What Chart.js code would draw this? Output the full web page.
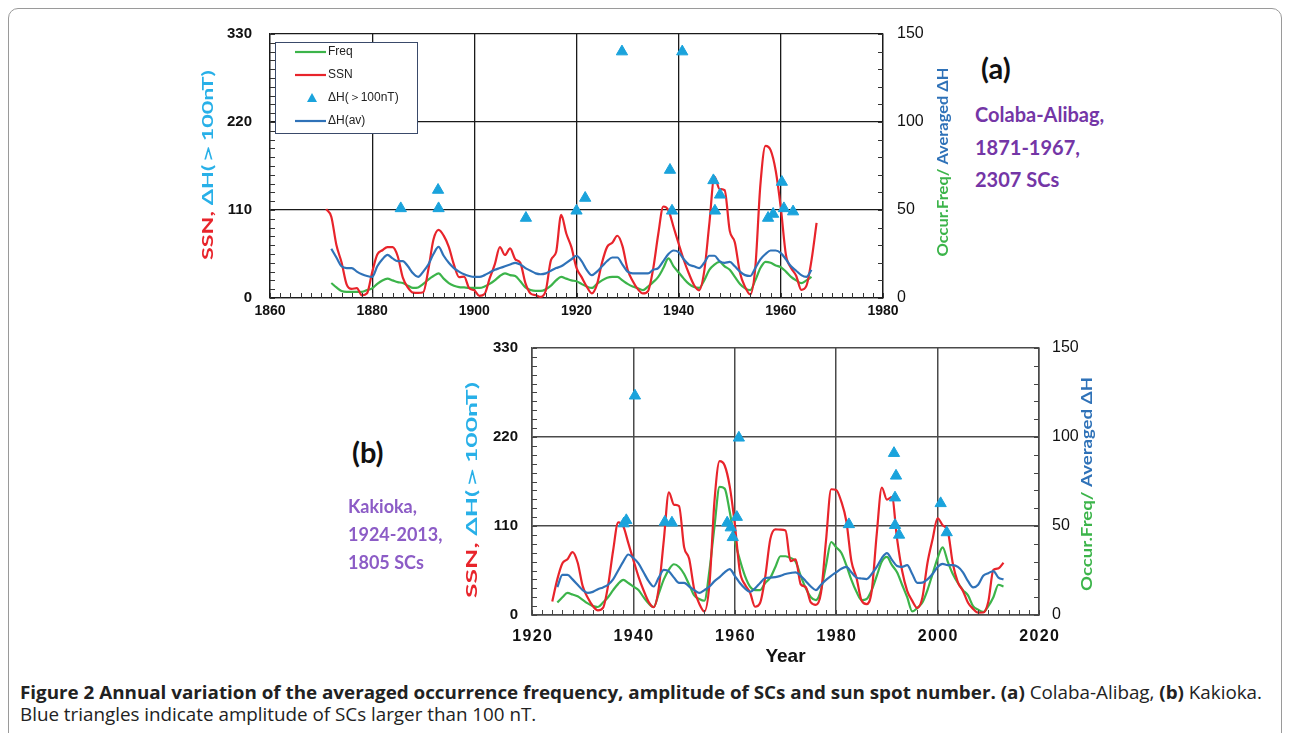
<!DOCTYPE html>
<html>
<head>
<meta charset="utf-8">
<script src="https://cdn.jsdelivr.net/npm/chart.js@4"></script>
<style>
  html, body { margin: 0; padding: 0; background: #fff; }
  body { width: 1290px; height: 733px; position: relative; overflow: hidden; }
  #frame { position: absolute; left: 8px; top: 8px; width: 1274px; height: 760px; border: 1px solid #9a9a9a; border-radius: 10px; box-sizing: border-box; }
  canvas { position: absolute; }
  .lbl { position: absolute; font-family: Lato, "Open Sans", sans-serif; font-weight: 700; white-space: nowrap; line-height: 1; }
  .panel { font-size: 29px; color: #111; }
  .siteA { font-size: 20px; color: #7436a6; }
  .siteB { font-size: 18px; color: #8c5cc6; }
  .cap { position: absolute; left: 20px; font-family: "Open Sans", sans-serif; font-size: 18px; color: #222; white-space: nowrap; transform-origin: 0 50%; line-height: 1; }
  .cap b { font-weight: 700; }
</style>
</head>
<body>
<div id="frame"></div>

<canvas id="chartA" width="820" height="300" style="left:150px; top:20px;"></canvas>
<canvas id="chartB" width="700" height="340" style="left:420px; top:330px;"></canvas>

<div class="lbl panel" style="left:981px; top:53px;">(a)</div>
<div class="lbl siteA" style="left:975px; top:104px;">Colaba-Alibag,</div>
<div class="lbl siteA" style="left:975px; top:137px;">1871-1967,</div>
<div class="lbl siteA" style="left:975px; top:169px;">2307 SCs</div>

<div class="lbl panel" style="left:352px; top:437px;">(b)</div>
<div class="lbl siteB" style="left:348px; top:497px;">Kakioka,</div>
<div class="lbl siteB" style="left:348px; top:525px;">1924-2013,</div>
<div class="lbl siteB" style="left:348px; top:553px;">1805 SCs</div>

<div class="cap" id="cap1" style="top:683px;"><b>Figure 2 Annual variation of the averaged occurrence frequency, amplitude of SCs and sun spot number.</b> <b>(a)</b> Colaba-Alibag, <b>(b)</b> Kakioka.</div>
<div class="cap" id="cap2" style="top:705px;">Blue triangles indicate amplitude of SCs larger than 100 nT.</div>

<script>
// ---- data: (a) Colaba-Alibag ----
var yearsA = [1871,1872,1873,1874,1875,1876,1877,1878,1879,1880,
  1881,1882,1883,1884,1885,1886,1887,1888,1889,1890,
  1891,1892,1893,1894,1895,1896,1897,1898,1899,1900,
  1901,1902,1903,1904,1905,1906,1907,1908,1909,1910,
  1911,1912,1913,1914,1915,1916,1917,1918,1919,1920,
  1921,1922,1923,1924,1925,1926,1927,1928,1929,1930,
  1931,1932,1933,1934,1935,1936,1937,1938,1939,1940,
  1941,1942,1943,1944,1945,1946,1947,1948,1949,1950,
  1951,1952,1953,1954,1955,1956,1957,1958,1959,1960,
  1961,1962,1963,1964,1965,1966,1967];
var ssnA = [111.2,101.6,66.2,44.7,17.0,11.3,12.4,3.4,6.0,32.3,
  54.3,59.7,63.7,63.5,52.2,25.4,13.1,6.8,6.3,7.1,
  35.6,73.0,85.1,78.0,64.0,41.8,26.2,26.7,12.1,9.5,
  2.7,5.0,24.4,42.0,63.5,53.8,62.0,48.5,43.9,18.6,
  5.7,3.6,1.4,9.6,47.4,57.1,103.9,80.6,63.6,37.6,
  26.1,14.2,5.8,16.7,44.3,63.9,69.0,77.8,64.9,35.7,
  21.2,11.1,5.7,8.7,36.1,79.7,114.4,109.6,88.8,67.8,
  47.5,30.6,16.3,9.6,33.2,92.6,151.6,136.3,134.7,83.9,
  69.4,31.5,13.9,4.4,38.0,141.7,190.2,184.8,159.0,112.3,
  53.9,37.6,27.9,10.2,15.1,47.0,93.8];
var freqA = [null,8.5,6,4,3.5,3.5,3.5,3.5,4.5,5.5,
  8,10,11,10,9,8.5,7,5.7,6,8,
  10.5,12.5,14,11,8.5,7,6.2,6,5.8,5.7,
  5.7,6.5,8,10,12.5,14,13,12.5,9.5,6,
  4.5,4,4,5,7,10,12,11,10,9.5,
  8,6.5,5.7,8,10,11.5,12,12,10,8,
  6.5,5.5,4.5,6.5,9,12,17,22.5,18,14.5,
  11,8,6.2,5.7,10,16,19,20.5,18,16,
  12,8,5.5,4.5,10,17,20.5,20,18.5,17.5,
  15,12,10,8.5,10,12,null];
var dhAvA = [null,28,23,18,17,17,15,13.5,12.5,12,
  18,22,24.5,22.5,21,21,18,14,12,15,
  19,25,29,24,20,17,15,13.5,12.5,12,
  12,13,14.5,16,17,18,19,20,19,17,
  15.5,14,13.5,14,15.5,17,18,20,22,24,
  21,16,13,15,18,21,23,23,19,15,
  14,14,14,14,16,17,21,25,27,26,
  22,19,18,17,20,24,24,21,20,20.5,
  18,15,13,12.5,17,22,25,27,27,25.5,
  22,18,15.5,13,12,16,null];
var triYearsA = [1885.6,1892.9,1893.0,1910.1,1920.0,1921.7,1928.9,1938.3,1938.7,1940.7,1946.8,1947.1,1948.1,1957.5,1958.5,1960.2,1960.6,1962.4];
var triValsA  = [112,135,112,100,109,125,308,160,109,308,147,109,129,100,105,145,112,108];

// ---- data: (b) Kakioka ----
var yearsB = [1924,1925,1926,1927,1928,1929,1930,
  1931,1932,1933,1934,1935,1936,1937,1938,1939,1940,
  1941,1942,1943,1944,1945,1946,1947,1948,1949,1950,
  1951,1952,1953,1954,1955,1956,1957,1958,1959,1960,
  1961,1962,1963,1964,1965,1966,1967,1968,1969,1970,
  1971,1972,1973,1974,1975,1976,1977,1978,1979,1980,
  1981,1982,1983,1984,1985,1986,1987,1988,1989,1990,
  1991,1992,1993,1994,1995,1996,1997,1998,1999,2000,
  2001,2002,2003,2004,2005,2006,2007,2008,2009,2010,
  2011,2012,2013];
var ssnB = [16.7,44.3,63.9,69.0,77.8,64.9,35.7,
  21.2,11.1,5.7,8.7,36.1,79.7,114.4,109.6,88.8,67.8,
  47.5,30.6,16.3,9.6,33.2,92.6,151.6,136.3,134.7,83.9,
  69.4,31.5,13.9,4.4,38.0,141.7,190.2,184.8,159.0,112.3,
  53.9,37.6,27.9,10.2,15.1,47.0,93.8,105.9,105.5,104.5,
  66.6,68.9,38.0,34.5,15.5,12.6,27.5,92.5,155.4,154.6,
  140.4,115.9,66.6,45.9,17.9,13.4,29.4,100.2,157.6,142.6,
  145.7,94.3,54.6,29.9,17.5,8.6,21.5,64.3,93.3,119.6,
  111.0,104.0,63.7,40.4,29.8,15.2,7.5,2.9,3.1,16.5,
  55.7,57.6,64.7];
var freqB = [null,7,10,12.4,11.5,10.5,8.5,
  6.5,5,4.5,7,10,14,17.5,19.7,18,16,
  14,10,6.5,4.5,12,20,25.5,28.5,27,23,
  17,11,9,8,25,50,72,71,58,42,
  31,22,16,14,14,18,21,27,33,33,
  32,30,22,15,10,8.4,14,28,41,38,
  35,28,19.7,13,8.4,9,14,22,30,32.6,
  28,24,17,10,2,4,7,14,23,32,
  38,30,23,18,14,11,5,3,1.7,5,
  10,17,16];
var dhAvB = [null,15.7,22.5,22.5,20,17,14,
  12.4,13,14.5,15.5,17,20,25,30,34,32,
  29,24,19,16,21,25.3,24.5,21,18,18,
  16,14,12.4,14,16,19,21.3,24,25.8,22,
  18,15,13,15,18,20.8,21,21.3,22,23,
  23.6,24,22,19,16,14,17,19.7,22,24,
  26,27,24,21,20.5,20.2,23,27,32,34.8,
  31,27.5,27,28,23,18,18.2,20,23,27,
  28.7,28,28,27,24,19,15.5,17,22,23.5,
  24.7,21,20];
var triYearsB = [1938.1,1938.6,1940.3,1946.2,1947.6,1958.5,1959.2,1959.6,1960.4,1960.8,1982.5,1991.4,1991.8,1991.6,1991.6,1992.4,2000.6,2001.8];
var triValsB  = [113,117,271,115,114,114,108,96,121,219,112,200,172,145,111,99,138,102];

// colours
var RED = '#e8242b', GREEN = '#3cb44a', BLUE = '#2f72b8', TRI = '#1aa3dc', CYAN = '#28b0e8';

function pts(xs, ys) {
  return xs.map(function (x, i) { return { x: x, y: ys[i] }; });
}

function buildDatasets(years, ssn, freq, dh, triX, triY) {
  return [
    { label: 'Freq', data: pts(years, freq), yAxisID: 'y2', borderColor: GREEN, borderWidth: 2.2,
      pointRadius: 0, cubicInterpolationMode: 'monotone', order: 4 },
    { label: 'SSN', data: pts(years, ssn), yAxisID: 'y', borderColor: RED, borderWidth: 2.2,
      pointRadius: 0, cubicInterpolationMode: 'monotone', order: 3 },
    { label: 'ΔH(＞100nT)', data: pts(triX, triY), yAxisID: 'y', showLine: false,
      pointStyle: 'triangle', pointRadius: 6.5, backgroundColor: TRI, borderColor: TRI, borderWidth: 1, order: 1 },
    { label: 'ΔH(av)', data: pts(years, dh), yAxisID: 'y2', borderColor: BLUE, borderWidth: 2.2,
      pointRadius: 0, cubicInterpolationMode: 'monotone', order: 2 }
  ];
}

// vertical axis title in several colours, squeezed to a given length
function vText(ctx, cx, cy, parts, font, length) {
  ctx.save();
  ctx.translate(cx, cy);
  ctx.rotate(-Math.PI / 2);
  ctx.font = font;
  ctx.textBaseline = 'middle';
  ctx.textAlign = 'left';
  var total = 0;
  parts.forEach(function (p) { total += ctx.measureText(p[0]).width; });
  if (length) ctx.scale(length / total, 1);
  var x0 = -total / 2;
  parts.forEach(function (p) {
    ctx.fillStyle = p[1];
    ctx.fillText(p[0], x0, 0);
    x0 += ctx.measureText(p[0]).width;
  });
  ctx.restore();
}

// minor ticks, axis titles and the boxed legend
var decorPlugin = {
  id: 'decor',
  afterDraw: function (chart, args, opts) {
    var ctx = chart.ctx, a = chart.chartArea;
    var sx = chart.scales.x, sy = chart.scales.y, sy2 = chart.scales.y2;
    ctx.save();
    ctx.strokeStyle = opts.tickColor;
    ctx.lineWidth = 1;
    ctx.beginPath();
    var v, p;
    for (v = sy.min; v <= sy.max; v += opts.yMinor) {
      p = Math.round(sy.getPixelForValue(v)) + 0.5;
      ctx.moveTo(a.left, p); ctx.lineTo(a.left + 5, p);
    }
    for (v = sy2.min; v <= sy2.max; v += opts.y2Minor) {
      p = Math.round(sy2.getPixelForValue(v)) + 0.5;
      ctx.moveTo(a.right, p); ctx.lineTo(a.right - 5, p);
    }
    for (v = sx.min; v <= sx.max; v += opts.xMinor) {
      p = Math.round(sx.getPixelForValue(v)) + 0.5;
      ctx.moveTo(p, a.bottom); ctx.lineTo(p, a.bottom - 5);
    }
    ctx.stroke();

    opts.titles.forEach(function (t) {
      vText(ctx, t.x, t.y, t.parts, t.font, t.length);
    });

    if (opts.xTitle) {
      ctx.font = opts.xTitle.font;
      ctx.fillStyle = '#111';
      ctx.textAlign = 'center';
      ctx.textBaseline = 'middle';
      ctx.fillText(opts.xTitle.text, (a.left + a.right) / 2, opts.xTitle.y);
    }

    if (opts.legend) {
      var L = opts.legend;
      ctx.fillStyle = '#fff';
      ctx.fillRect(L.x, L.y, L.w, L.h);
      ctx.strokeStyle = '#3a4a6a';
      ctx.lineWidth = 1;
      ctx.strokeRect(L.x + 0.5, L.y + 0.5, L.w, L.h);
      ctx.font = '12px "Liberation Sans", Arial, sans-serif';
      ctx.textBaseline = 'middle';
      ctx.textAlign = 'left';
      chart.data.datasets.forEach(function (ds, i) {
        var yy = L.y + L.first + i * L.step;
        if (ds.showLine === false) {
          ctx.fillStyle = ds.backgroundColor;
          ctx.beginPath();
          ctx.moveTo(L.x + 37, yy - 5);
          ctx.lineTo(L.x + 42, yy + 4);
          ctx.lineTo(L.x + 32, yy + 4);
          ctx.closePath();
          ctx.fill();
        } else {
          ctx.strokeStyle = ds.borderColor;
          ctx.lineWidth = 2.2;
          ctx.beginPath();
          ctx.moveTo(L.x + 20, yy); ctx.lineTo(L.x + 51, yy);
          ctx.stroke();
        }
        ctx.fillStyle = '#222';
        ctx.fillText(ds.label, L.x + 53, yy);
      });
    }
    ctx.restore();
  }
};

// fixed axis sizes; label overflow is not allowed to push the plot area around
function fixSize(prop, size) {
  return function (s) {
    s[prop] = size;
    s.paddingTop = 0; s.paddingBottom = 0; s.paddingLeft = 0; s.paddingRight = 0;
  };
}

function makeOptions(cfg) {
  var gridCol = cfg.gridColor;
  return {
    responsive: false,
    animation: false,
    layout: { autoPadding: false, padding: { top: cfg.top, left: 0, right: 0, bottom: 0 } },
    plugins: {
      legend: { display: false },
      tooltip: { enabled: false },
      decor: cfg.decor
    },
    scales: {
      x: {
        type: 'linear', min: cfg.xMin, max: cfg.xMax,
        afterFit: fixSize('height', cfg.xHeight),
        grid: { color: gridCol, lineWidth: cfg.gridWidth, drawTicks: false },
        border: { color: gridCol, width: cfg.gridWidth },
        ticks: { stepSize: 20, padding: cfg.xPad, color: '#111', font: cfg.xFont, maxRotation: 0,
          callback: cfg.xLabel }
      },
      y: {
        position: 'left', min: 0, max: 330,
        afterFit: fixSize('width', cfg.yWidth),
        grid: { color: gridCol, lineWidth: cfg.gridWidth, drawTicks: false },
        border: { color: gridCol, width: cfg.gridWidth },
        ticks: { stepSize: 110, padding: cfg.yPad, color: '#111', font: cfg.yFont }
      },
      y2: {
        position: 'right', min: 0, max: 150,
        afterFit: fixSize('width', cfg.y2Width),
        grid: { drawOnChartArea: false, drawTicks: false },
        border: { color: gridCol, width: cfg.gridWidth },
        ticks: { stepSize: 50, padding: cfg.y2Pad, color: '#111', font: cfg.y2Font }
      }
    }
  };
}

var TICKFONT = '"Liberation Sans", Arial, sans-serif';
var TITLEFONT = 'bold 16px Lato, "Open Sans", sans-serif';

new Chart(document.getElementById('chartA'), {
  type: 'line',
  data: { datasets: buildDatasets(yearsA, ssnA, freqA, dhAvA, triYearsA, triValsA) },
  options: makeOptions({
    top: 14, xMin: 1860, xMax: 1980, xHeight: 22, yWidth: 120, y2Width: 87,
    gridColor: '#1a1a1a', gridWidth: 1.3,
    xPad: 5, yPad: 18, y2Pad: 14,
    xFont: { family: TICKFONT, size: 14, weight: 'bold' },
    yFont: { family: TICKFONT, size: 15, weight: 'bold' },
    y2Font: { family: TICKFONT, size: 16 },
    xLabel: function (v) { return String(v); },
    decor: {
      tickColor: '#333', yMinor: 11, y2Minor: 10, xMinor: 2,
      titles: [
        { x: 58, y: 145, parts: [['SSN, ', RED], ['ΔH(＞100nT)', CYAN]], font: TITLEFONT, length: 190 },
        { x: 793, y: 142, parts: [['Occur.Freq/', GREEN], [' Averaged ΔH', BLUE]], font: TITLEFONT, length: 189 }
      ],
      legend: { x: 125, y: 22, w: 142, h: 91, first: 10, step: 23 }
    }
  }),
  plugins: [decorPlugin]
});

new Chart(document.getElementById('chartB'), {
  type: 'line',
  data: { datasets: buildDatasets(yearsB, ssnB, freqB, dhAvB, triYearsB, triValsB) },
  options: makeOptions({
    top: 18, xMin: 1920, xMax: 2020, xHeight: 55, yWidth: 112, y2Width: 81,
    gridColor: '#4a4a4a', gridWidth: 1.5,
    xPad: 12, yPad: 14, y2Pad: 13,
    xFont: { family: TICKFONT, size: 16, weight: 'bold' },
    yFont: { family: TICKFONT, size: 15, weight: 'bold' },
    y2Font: { family: TICKFONT, size: 16 },
    xLabel: function (v) { return String(v).split('').join('\u200A'); },
    decor: {
      tickColor: '#444', yMinor: 11, y2Minor: 10, xMinor: 2,
      titles: [
        { x: 52, y: 160, parts: [['SSN, ', RED], ['ΔH(＞100nT)', CYAN]], font: TITLEFONT, length: 216 },
        { x: 667, y: 154, parts: [['Occur.Freq/', GREEN], [' Averaged ΔH', BLUE]], font: TITLEFONT, length: 214 }
      ],
      xTitle: { text: 'Year', y: 327, font: 'bold 19px "Liberation Sans", Arial, sans-serif' }
    }
  }),
  plugins: [decorPlugin]
});

// squeeze the caption to the width it has in the figure
var cap1 = document.getElementById('cap1');
var cap2 = document.getElementById('cap2');
var k = 1242 / cap1.getBoundingClientRect().width;
cap1.style.transform = 'scaleX(' + k + ')';
cap2.style.transform = 'scaleX(' + k + ')';
</script>
</body>
</html>
